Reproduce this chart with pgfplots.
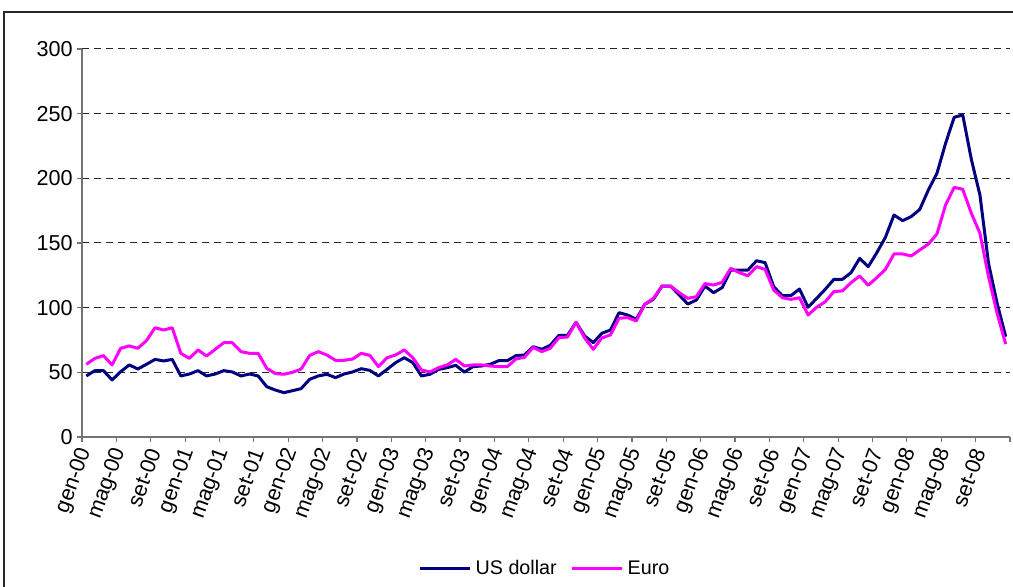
\documentclass[border=0pt]{standalone}
\usepackage{pgfplots}
\pgfplotsset{compat=1.18}
\usepackage{fontspec}
\setmainfont{Liberation Sans}
\definecolor{usd}{RGB}{0,0,128}
\definecolor{eur}{RGB}{255,0,255}
\pgfplotstableread{
m usd eur
0 47.2 56.2
1 51.3 60.8
2 51.3 62.9
3 44.1 55.7
4 50.5 68.6
5 55.7 70.4
6 52.6 68.6
7 56.2 74.5
8 60.0 84.5
9 58.8 82.7
10 60.0 84.5
11 47.2 64.7
12 48.7 60.8
13 51.3 67.3
14 47.2 62.6
15 48.7 67.8
16 51.3 72.9
17 50.3 72.9
18 47.2 66.0
19 48.7 64.7
20 47.2 64.7
21 38.9 53.1
22 36.3 49.0
23 34.3 48.5
24 35.8 50.0
25 37.4 52.5
26 44.6 63.1
27 47.2 66.0
28 48.5 63.4
29 45.9 59.3
30 48.7 59.3
31 50.3 60.3
32 52.8 64.7
33 51.5 63.1
34 47.2 54.4
35 52.3 61.3
36 57.5 63.4
37 61.3 67.3
38 57.5 61.3
39 47.2 51.8
40 48.5 50.3
41 52.3 53.6
42 53.6 55.7
43 55.4 60.0
44 50.2 54.9
45 54.4 55.7
46 54.9 55.7
47 56.2 54.9
48 59.0 54.4
49 59.0 54.4
50 62.9 60.3
51 63.4 61.6
52 69.8 69.3
53 67.8 66.0
54 70.9 68.6
55 78.6 76.8
56 78.6 77.3
57 88.7 88.7
58 78.1 76.6
59 72.9 67.8
60 80.2 76.6
61 82.7 78.9
62 96.1 91.8
63 94.3 92.3
64 91.0 89.7
65 102.6 102.6
66 106.5 107.2
67 116.7 116.7
68 116.7 116.7
69 109.8 111.6
70 102.8 107.2
71 105.9 108.5
72 116.7 118.6
73 111.6 117.5
74 115.5 119.6
75 129.1 130.4
76 129.1 127.0
77 129.1 124.7
78 136.3 131.7
79 134.8 129.6
80 116.2 113.7
81 109.3 107.7
82 109.3 106.4
83 114.4 107.7
84 100.3 94.3
85 107.2 100.3
86 114.2 104.6
87 121.9 112.4
88 121.9 113.0
89 127.1 119.3
90 138.1 124.5
91 131.7 117.3
92 142.5 123.2
93 154.4 129.6
94 171.6 141.5
95 167.3 141.5
96 170.4 140.0
97 176.0 144.6
98 191.0 149.2
99 203.9 157.0
100 227.0 179.4
101 247.2 193.0
102 249.0 191.5
103 214.7 173.0
104 187.1 157.5
105 134.3 124.0
106 103.4 95.6
107 77.6 71.9
}\datatable
\begin{document}
\begin{tikzpicture}
\useasboundingbox (0,0) rectangle (506.5pt,293.5pt);
\draw[line width=0.6pt, black!85] (2pt,-5pt) -- (2pt,287.5pt) -- (515pt,287.5pt);
\begin{axis}[
  at={(41pt,75pt)}, anchor=south west,
  scale only axis, width=464pt, height=194pt,
  xmin=-0.5, xmax=107.5, ymin=0, ymax=300,
  axis lines=left,
  axis line style={-, draw=black!55, line width=0.75pt},
  tick align=outside,
  major tick length=2.5pt,
  tick style={draw=black!55, line width=0.6pt},
  ytick={0,50,...,300},
  ymajorgrids,
  major grid style={draw=black!85, line width=0.5pt, dash pattern=on 3.5pt off 2.5pt},
  xtick={-0.5,3.5,...,107.5},
  xticklabels={},
  extra x ticks={0,4,...,104},
  extra x tick labels={gen-00,mag-00,set-00,gen-01,mag-01,set-01,gen-02,mag-02,set-02,gen-03,mag-03,set-03,gen-04,mag-04,set-04,gen-05,mag-05,set-05,gen-06,mag-06,set-06,gen-07,mag-07,set-07,gen-08,mag-08,set-08},
  extra x tick style={major tick length=0pt, xticklabel style={rotate=70, anchor=east, inner sep=1pt}},
  xticklabel shift=5pt,
  yticklabel style={inner sep=2pt},
  /pgf/number format/assume math mode=true,
  every tick label/.append style={font=\fontsize{10.8}{12}\selectfont, text=black},
  legend style={at={(0.5,-0.34)}, anchor=center, draw=none, fill=none,
    legend columns=2, font=\fontsize{9.85}{11}\selectfont,
    /tikz/every even column/.append style={column sep=5pt}},
  legend image code/.code={\draw[#1] (0pt,0pt) -- (25pt,0pt);},
  clip=false,
]
\addplot[usd, line width=1.5pt, line join=round] table[x=m, y=usd] {\datatable};
\addlegendentry{US dollar}
\addplot[eur, line width=1.5pt, line join=round] table[x=m, y=eur] {\datatable};
\addlegendentry{Euro}
\end{axis}
\end{tikzpicture}
\end{document}
